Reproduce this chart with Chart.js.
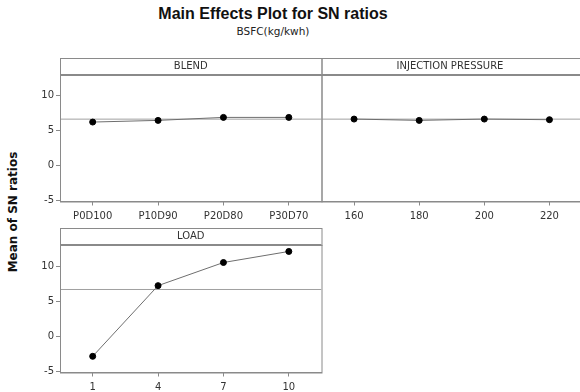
<!DOCTYPE html>
<html>
<head>
<meta charset="utf-8">
<script src="https://cdn.jsdelivr.net/npm/chart.js@4/dist/chart.umd.min.js"></script>
<style>
  html, body { margin:0; padding:0; width:580px; height:392px; overflow:hidden; background:#fff; }
  canvas { position:absolute; left:0; top:0; }
  .t { position:absolute; white-space:nowrap; color:#111; }
</style>
</head>
<body>
<div class="t" id="title" style="left:0;width:546px;top:5px;text-align:center;font:bold 16px 'Liberation Sans',sans-serif;">Main Effects Plot for SN ratios</div>
<div class="t" id="subtitle" style="left:0;width:546px;top:25px;text-align:center;font:10.5px 'DejaVu Sans',sans-serif;color:#222;">BSFC(kg/kwh)</div>
<div class="t" id="ytitle" style="left:13px;top:212px;transform:translate(-50%,-50%) rotate(-90deg);font:bold 12px 'DejaVu Sans',sans-serif;">Mean of SN ratios</div>
<canvas id="c1" width="600" height="392"></canvas>
<canvas id="c2" width="600" height="392"></canvas>
<canvas id="c3" width="600" height="392"></canvas>
<script>
// ---- data ----
const blendLabels = ["P0D100", "P10D90", "P20D80", "P30D70"];
const blendValues = [6.23, 6.47, 6.90, 6.90];
const pressureLabels = ["160", "180", "200", "220"];
const pressureValues = [6.66, 6.47, 6.66, 6.57];
const loadLabels = ["1", "4", "7", "10"];
const loadValues = [-2.89, 7.20, 10.50, 12.08];
const grandMean = 6.65;
const yTicks = [-5, 0, 5, 10];
const yMin = -5.2, yMax = 13.0;

const GRID = '#8a8a8a';
const TICKFONT = { family: "'DejaVu Sans', sans-serif", size: 10 };

const stripPlugin = {
  id: 'strip',
  afterDraw(chart, args, opts) {
    const ctx = chart.ctx, a = chart.chartArea;
    ctx.save();
    ctx.strokeStyle = GRID;
    ctx.lineWidth = 1;
    // plot box
    ctx.strokeRect(a.left + 0.5, a.top + 0.5, a.right - a.left, a.bottom - a.top);
    // strip header
    const h = opts.h;
    ctx.strokeRect(a.left + 0.5, a.top - h + 0.5, a.right - a.left, h);
    ctx.lineWidth = 2;
    ctx.beginPath();
    ctx.moveTo(a.left, a.top);
    ctx.lineTo(a.right, a.top);
    ctx.stroke();
    ctx.fillStyle = '#333';
    ctx.font = "10px 'DejaVu Sans', sans-serif";
    ctx.textAlign = 'center';
    ctx.textBaseline = 'middle';
    const cx = opts.cx !== undefined ? opts.cx : (a.left + a.right) / 2;
    ctx.fillText(opts.text, cx, a.top - h / 2);
    ctx.restore();
  }
};

function makePanel(id, labels, values, header, pad, showY, stripCx) {
  const pts = values.map((v, i) => ({ x: i, y: v }));
  return new Chart(document.getElementById(id), {
    type: 'line',
    data: {
      datasets: [
        {
          data: pts,
          borderColor: '#6e6e6e',
          borderWidth: 1,
          pointRadius: 3,
          pointBackgroundColor: '#000',
          pointBorderColor: '#000',
          tension: 0,
          order: 1
        },
        {
          data: [{ x: -0.5, y: grandMean }, { x: labels.length - 0.5, y: grandMean }],
          borderColor: '#a0a0a0',
          borderWidth: 1,
          pointRadius: 0,
          order: 2
        }
      ]
    },
    options: {
      responsive: false,
      animation: false,
      events: [],
      layout: { padding: pad },
      plugins: {
        legend: { display: false },
        tooltip: { enabled: false },
        strip: { text: header, h: 17, cx: stripCx }
      },
      scales: {
        x: {
          type: 'linear',
          min: -0.5,
          max: labels.length - 0.5,
          afterBuildTicks: s => { s.ticks = labels.map((l, i) => ({ value: i })); },
          afterFit: s => { s.height = 22; },
          ticks: {
            callback: v => labels[v],
            font: TICKFONT,
            color: '#333',
            padding: 5,
            maxRotation: 0,
            autoSkip: false
          },
          grid: { drawOnChartArea: false, drawTicks: true, tickLength: 4, color: GRID },
          border: { display: true, color: GRID }
        },
        y: {
          display: showY,
          min: yMin,
          max: yMax,
          afterBuildTicks: s => { s.ticks = yTicks.map(v => ({ value: v })); },
          afterFit: s => { s.width = showY ? 25 : 0; },
          ticks: { font: TICKFONT, color: '#333', padding: 2 },
          grid: { drawOnChartArea: false, drawTicks: true, tickLength: 4, color: GRID },
          border: { display: true, color: GRID }
        }
      }
    },
    plugins: [stripPlugin]
  });
}

// BLEND: chart area x 60..321.7, y 75..201.7
makePanel('c1', blendLabels, blendValues, 'BLEND',
  { left: 35, right: 600 - 321.5, top: 75, bottom: 392 - 201.5 - 22 }, true);
// INJECTION PRESSURE: x 321.7..582
makePanel('c2', pressureLabels, pressureValues, 'INJECTION PRESSURE',
  { left: 321.5, right: 600 - 582, top: 75, bottom: 392 - 201.5 - 22 }, false, 450);
// LOAD: x 60..321.7, y 245..372.4
makePanel('c3', loadLabels, loadValues, 'LOAD',
  { left: 35, right: 600 - 321.5, top: 245, bottom: 392 - 372.5 - 22 }, true);
</script>
</body>
</html>
